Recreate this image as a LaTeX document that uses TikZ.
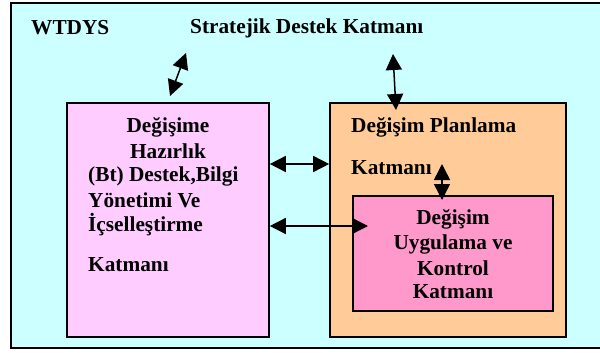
\documentclass[tikz,border=0pt]{standalone}
\usepackage{fontspec}
\setmainfont{Liberation Serif}
\usetikzlibrary{arrows.meta}
\definecolor{bgcyan}{HTML}{CCFFFF}
\definecolor{boxpink}{HTML}{FFCCFF}
\definecolor{boxorange}{HTML}{FFCC99}
\definecolor{boxrose}{HTML}{FF99CC}
\tikzset{
  lbl/.style={inner sep=0pt, font=\fontsize{21.3}{24}\selectfont\bfseries},
  lleft/.style={lbl, anchor=west},
  layer/.style={draw=black, line width=1.6pt},
  tip/.tip={Triangle[length=16pt 0, width=16pt 0]},
  arr/.style={line width=1.5pt, tip-tip},
}
\begin{document}
\begin{tikzpicture}[x=1pt,y=-1pt]
\useasboundingbox (0,0) rectangle (600,353);
% outer frame
\fill[bgcyan] (11,3) rectangle (600,348);
\draw[line width=1.6pt] (600,3) -- (11,3) -- (11,348) -- (600,348);
% boxes
\node[layer, fill=boxpink, minimum width=202pt, minimum height=234pt, inner sep=0pt] (prep) at (168,220) {};
\node[layer, fill=boxorange, minimum width=236pt, minimum height=234pt, inner sep=0pt] (plan) at (448,220) {};
\node[layer, fill=boxrose, minimum width=200pt, minimum height=115pt, inner sep=0pt] (impl) at (453,253.5) {};
% titles
\node[lleft] (wtdys) at (31,28) {WTDYS};
\node[lleft] (strat) at (190,28) {Stratejik Destek Katmanı};
% pink box text
\node[lbl] (p1) at (168,127) {Değişime};
\node[lbl] (p2) at (168,151) {Hazırlık};
\node[lleft] (p3) at (88,176) {(Bt) Destek,Bilgi};
\node[lleft] (p4) at (88,200) {Yönetimi Ve};
\node[lleft] (p5) at (88,225) {İçselleştirme};
\node[lleft] (p6) at (88,265) {Katmanı};
% orange box text
\node[lleft] (o1) at (351,127) {Değişim Planlama};
\node[lleft] (o2) at (351,168) {Katmanı};
% inner box text
\node[lbl] (i1) at (453,219) {Değişim};
\node[lbl] (i2) at (453,244) {Uygulama ve};
\node[lbl] (i3) at (453,268) {Kontrol};
\node[lbl] (i4) at (453,292) {Katmanı};
% arrow end points
\coordinate (d1) at (186,53);
\coordinate (d2) at (170,96);
\coordinate (v1) at (393,54);
\coordinate (v2) at (396,110);
\coordinate (h1a) at (prep.east |- 0,164);
\coordinate (h1b) at (plan.west |- 0,164);
\coordinate (h2a) at (prep.east |- 0,226);
\coordinate (h2b) at (368,226);
\coordinate (s1) at (442,164);
\coordinate (s2) at (442,200);
% arrows
\draw[arr] (d1) -- (d2);
\draw[arr] (v1) -- (v2);
\draw[arr] (h1a) -- (h1b);
\draw[arr] (h2a) -- (h2b);
\draw[arr] (s1) -- (s2);
\end{tikzpicture}
\end{document}
